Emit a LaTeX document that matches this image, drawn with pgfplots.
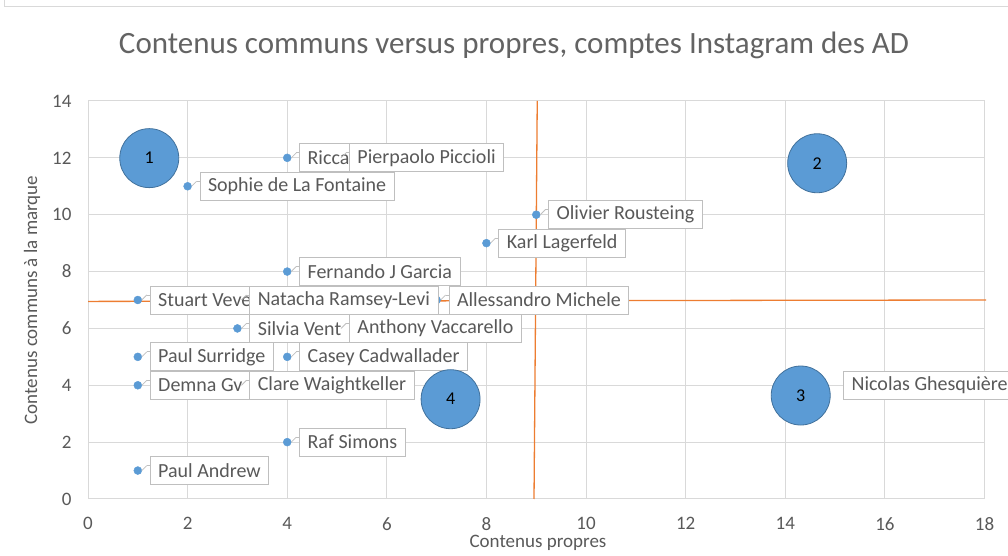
\documentclass[border=0pt]{standalone}
\usepackage{fontspec}
\setmainfont{Carlito}
\usepackage{pgfplots}
\pgfplotsset{compat=1.18}
\usepackage{pgfplotstable}
\definecolor{txt}{HTML}{595959}
\definecolor{ttl}{HTML}{636363}
\definecolor{gridc}{HTML}{D9D9D9}
\definecolor{lbl}{HTML}{BFBFBF}
\definecolor{blueA}{HTML}{5B9BD5}
\definecolor{blueB}{HTML}{41719C}
\definecolor{orng}{HTML}{ED7D31}

\pgfplotstableread[col sep=comma]{
x,y,name
4,12,Ricca
5,12,Pierpaolo Piccioli
2,11,Sophie de La Fontaine
9,10,Olivier Rousteing
8,9,Karl Lagerfeld
4,8,Fernando J Garcia
1,7,Stuart Veve
3,7,Natacha Ramsey-Levi
7,7,Allessandro Michele
3,6,Silvia Vent
5,6,Anthony Vaccarello
1,5,Paul Surridge
4,5,Casey Cadwallader
1,4,Demna  Gv
3,4,Clare Waightkeller
4,2,Raf Simons
1,1,Paul Andrew
}\pts

\pgfplotstableread[col sep=comma]{
x,y,name
14,4,Nicolas Ghesquière
}\ptsN

\pgfplotstableread[col sep=comma]{
x,y,name
1.23,11.99,1
14.64,11.81,2
14.31,3.64,3
7.28,3.51,4
}\bubbles

\begin{document}
\begin{tikzpicture}[x=1pt,y=1pt]
\path[use as bounding box] (0,0) rectangle (1008,556);
\draw[gridc, line width=1pt] (4,1000) -- (4,549) -- (1100,549);
\node[text=ttl, font=\fontsize{31}{33}\selectfont] at (514,511) {Contenus communs versus propres, comptes Instagram des AD};
\node[text=txt, font=\fontsize{19}{20}\selectfont] at (538,13) {Contenus propres};
\node[text=txt, font=\fontsize{19}{20}\selectfont, rotate=90] at (32,256) {Contenus communs à la marque};
\begin{axis}[
  at={(88pt,57pt)}, anchor=south west,
  scale only axis, width=896.5pt, height=398pt,
  xmin=0, xmax=18, ymin=0, ymax=14,
  xtick={0,2,...,18}, ytick={0,2,...,14},
  grid=major, major grid style={draw=gridc, line width=1pt},
  axis line style={draw=gridc, line width=1pt},
  major tick length=0pt,
  tick label style={text=txt, font=\fontsize{19}{19}\selectfont},
  /pgf/number format/assume math mode=true,
  xticklabel style={yshift=-15pt},
  yticklabel style={xshift=-13pt},
  clip=false,
]
% markers
\addplot[only marks, mark=*, mark size=4pt, mark options={fill=blueA, draw=blueA}] table[x=x,y=y] {\pts};
% Nicolas (marker hidden under bubble 3)
\addplot[only marks, mark=*, mark size=4pt, mark options={fill=blueA, draw=blueA},
  point meta=explicit symbolic, nodes near coords,
  nodes near coords style={anchor=west, xshift=58pt, draw=lbl, fill=white, text=txt,
    font=\fontsize{20}{20}\selectfont, inner xsep=8pt, minimum height=28pt, line width=0.8pt}]
  table[x=x,y=y,meta=name] {\ptsN};
% labels
\addplot[only marks, mark=none, point meta=explicit symbolic, nodes near coords,
  nodes near coords style={anchor=west, xshift=12pt, draw=lbl, fill=white, text=txt,
    font=\fontsize{20}{20}\selectfont, inner xsep=8pt, minimum height=28pt, line width=0.8pt,
    append after command={
      ([yshift=5pt]\tikzlastnode.west) edge[draw=lbl, line width=0.8pt] ([xshift=-3pt,yshift=5pt]\tikzlastnode.west)
      ([xshift=-3pt,yshift=5pt]\tikzlastnode.west) edge[draw=lbl, line width=0.8pt] ([xshift=-8pt]\tikzlastnode.west)
    }}]
  table[x=x,y=y,meta=name] {\pts};
% bubbles
\addplot[only marks, mark=*, mark size=29.5pt, mark options={fill=blueA, draw=blueB, line width=0.8pt},
  point meta=explicit symbolic, nodes near coords,
  nodes near coords style={anchor=center, text=black, font=\fontsize{18}{18}\selectfont}]
  table[x=x,y=y,meta=name] {\bubbles};
% quadrant lines
\addplot[orng, line width=1.3pt] coordinates {(9.02,14) (8.955,0)};
\addplot[orng, line width=1.3pt] coordinates {(0,6.95) (18.03,7.0)};
\end{axis}
\end{tikzpicture}
\end{document}
